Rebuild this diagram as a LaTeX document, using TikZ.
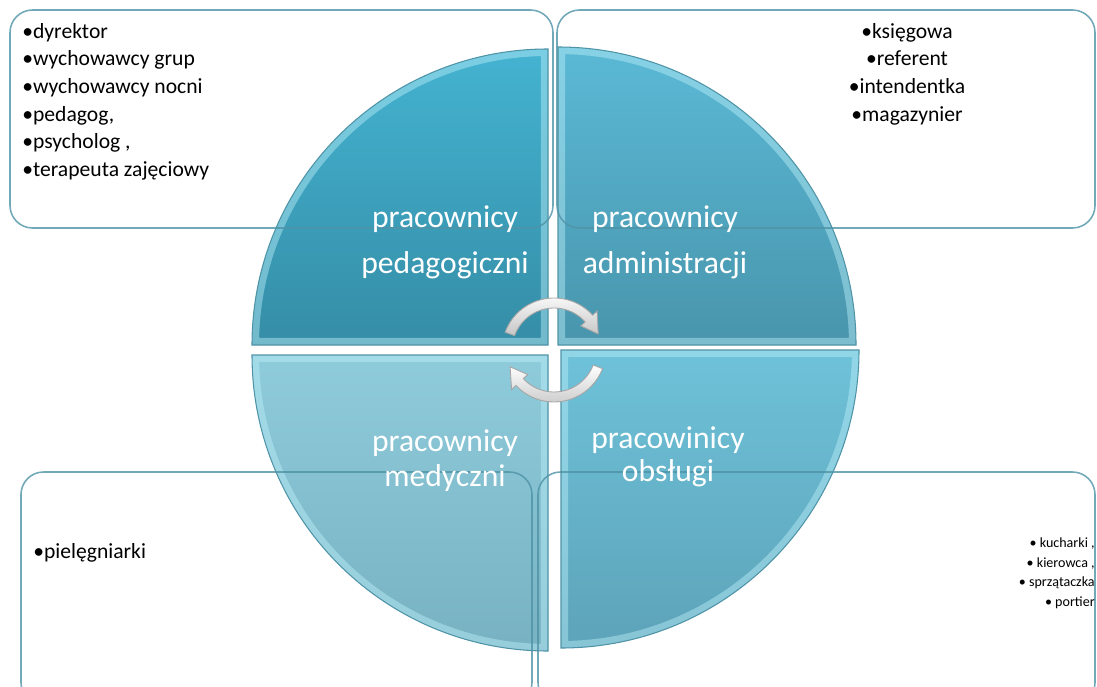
\documentclass[tikz,border=0pt]{standalone}
\usepackage{fontspec}
\setmainfont{Carlito}
\usetikzlibrary{positioning}

\definecolor{tlTop}{HTML}{44B3D1}
\definecolor{tlBot}{HTML}{358DA6}
\definecolor{trTop}{HTML}{5BB9D6}
\definecolor{trBot}{HTML}{4895AC}
\definecolor{blTop}{HTML}{8ECBDB}
\definecolor{blBot}{HTML}{78B2C2}
\definecolor{brTop}{HTML}{6EC2D9}
\definecolor{brBot}{HTML}{5DA3B9}
\definecolor{boxline}{HTML}{4F93A6}
\definecolor{rim}{HTML}{BDF0FA}

\tikzset{
  box/.style={draw=boxline, line width=0.9pt, rounded corners=0.45cm, draw opacity=0.8},
  bevel/.style={draw=rim, line width=8pt, draw opacity=0.45},
  quadedge/.style={draw=boxline, line width=0.6pt},
  cyclearrow/.style={top color=white, bottom color=gray!45, draw=gray!70, line width=0.5pt},
  quadlabel/.style={font=\fontsize{18}{26}\selectfont, text=white, align=center, inner sep=0pt},
  listtext/.style={font=\fontsize{12.3}{14}\selectfont, inner sep=0pt},
  smalltext/.style={font=\fontsize{8}{9}\selectfont, inner sep=0pt}
}

\begin{document}
\begin{tikzpicture}[x=0.02cm,y=-0.02cm]
\useasboundingbox (0,0) rectangle (1097,686);
\clip (0,0) rectangle (1097,686);

%quadrants
\foreach \cx/\cy/\sa/\ea/\r/\ca/\cb in {548/345/180/270/296/tlTop/tlBot, 558/345/270/360/298/trTop/trBot, 548/355/90/180/296/blTop/blBot, 561/350/0/90/298/brTop/brBot}{
  \begin{scope}
    \clip (\cx,\cy) -- ++(\sa:\r) arc[start angle=\sa, end angle=\ea, radius=\r] -- cycle;
    \shade[top color=\ca, bottom color=\cb] (\cx,\cy) -- ++(\sa:\r) arc[start angle=\sa, end angle=\ea, radius=\r] -- cycle;
    \draw[bevel] (\cx,\cy) -- ++(\sa:\r) arc[start angle=\sa, end angle=\ea, radius=\r] -- cycle;
  \end{scope}
  \draw[quadedge] (\cx,\cy) -- ++(\sa:\r) arc[start angle=\sa, end angle=\ea, radius=\r] -- cycle;
}

%boxes
\draw[box] (10,10) rectangle (553,228);
\draw[box] (557,10) rectangle (1095,228);
\draw[box] (21,472) rectangle (532,705);
\draw[box] (538,472) rectangle (1095,705);

%arrows
\begin{scope}[shift={(554,350)}]
\draw[cyclearrow] (200:52) arc[start angle=200, end angle=318, radius=52] -- (318:58) -- (340:47) -- (318:36) -- (318:42) arc[start angle=318, end angle=200, radius=42] -- cycle;
\draw[cyclearrow] (21:52) arc[start angle=21, end angle=137, radius=52] -- (137:58) -- (159:47) -- (137:36) -- (137:42) arc[start angle=137, end angle=21, radius=42] -- cycle;
\end{scope}

%labels
\node[quadlabel] (pedag) at (445,242) {pracownicy\\pedagogiczni};
\node[quadlabel] (admin) at (665,242) {pracownicy\\administracji};
\node[quadlabel, font=\fontsize{18}{20}\selectfont] (medyk) at (445,461) {pracownicy\\medyczni};
\node[quadlabel, font=\fontsize{18}{19}\selectfont] (obsl) at (668,457) {pracowinicy\\obsługi};

%lists
\foreach \t [count=\i] in {dyrektor, wychowawcy grup, wychowawcy nocni, {pedagog,}, {psycholog ,}, terapeuta zajęciowy}
  \node[listtext, anchor=base west] (ped\i) at (22, 11+27.5*\i) {•\t};
\foreach \t [count=\i] in {księgowa, referent, intendentka, magazynier}
  \node[listtext, anchor=base] (adm\i) at (907, 11+27.5*\i) {•\t};
\node[listtext, anchor=base west] (med1) at (33,558) {•pielęgniarki};
\foreach \t [count=\i] in {{• kucharki ,}, {• kierowca ,}, • sprzątaczka, • portier}
  \node[smalltext, anchor=base east] (obs\i) at (1095, 528+19.5*\i) {\t};
\end{tikzpicture}
\end{document}
